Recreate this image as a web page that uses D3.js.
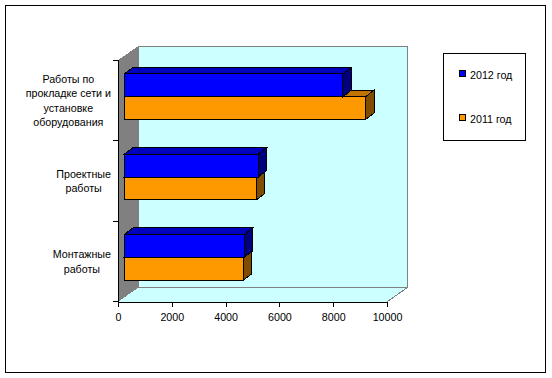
<!DOCTYPE html>
<html>
<head>
<meta charset="utf-8">
<script src="https://cdn.jsdelivr.net/npm/d3@7"></script>
<style>
html, body { margin: 0; padding: 0; background: #fff; }
svg { display: block; }
text { font-family: "Liberation Sans", Arial, sans-serif; font-size: 10.7px; fill: #000; }
.tick text { font-size: 10.7px; font-family: "Liberation Sans", Arial, sans-serif; }
rect, line, polygon, polyline, path { shape-rendering: crispEdges; }
</style>
</head>
<body>
<svg id="chart"></svg>
<script>
const categories = [
    ['Работы по', 'прокладке сети и', 'установке', 'оборудования'],
    ['Проектные', 'работы'],
    ['Монтажные', 'работы']
];
const values2012 = [8120, 4970, 4450];
const values2011 = [8960, 4900, 4420];
const xTicks = [0, 2000, 4000, 6000, 8000, 10000];
const seriesNames = ['2012 год', '2011 год'];

const chartWidth = 552, chartHeight = 378;
const svg = d3.select('#chart').attr('width', chartWidth).attr('height', chartHeight);

// frame of the picture
svg.append('rect').attr('x', 5.5).attr('y', 5.5).attr('width', 540).attr('height', 367)
    .attr('fill', '#fff').attr('stroke', '#000');

const plotLeft = 118.5, plotRight = 387.5, plotTop = 60.5, plotBottom = 301.5;
const wallDx = 20, wallDy = -14;
const barOffX = 6, barOffY = -4;
const depthX = 8.5, depthY = -6.5;

const xScale = d3.scaleLinear().domain([0, 10000]).range([plotLeft, plotRight]);
const yScale = d3.scaleBand().domain(d3.range(categories.length)).range([plotTop, plotBottom]);
const inner = yScale.bandwidth() * 0.215;

// walls
const poly = pts => pts.map(p => p.join(',')).join(' ');
svg.append('polygon')
    .attr('points', poly([[plotLeft + wallDx, plotTop + wallDy], [plotRight + wallDx, plotTop + wallDy], [plotRight + wallDx, plotBottom + wallDy],
        [plotRight, plotBottom], [plotLeft, plotBottom], [plotLeft + wallDx, plotBottom + wallDy]]))
    .attr('fill', '#ccffff').attr('stroke', 'none');
svg.append('polygon')
    .attr('points', poly([[plotLeft, plotTop], [plotLeft + wallDx, plotTop + wallDy], [plotLeft + wallDx, plotBottom + wallDy], [plotLeft, plotBottom]]))
    .attr('fill', '#808080').attr('stroke', 'none');
svg.append('polyline')
    .attr('points', poly([[plotLeft, plotTop], [plotLeft + wallDx, plotTop + wallDy], [plotRight + wallDx, plotTop + wallDy],
        [plotRight + wallDx, plotBottom + wallDy], [plotRight, plotBottom]]))
    .attr('fill', 'none').attr('stroke', '#808080');
svg.append('line')
    .attr('x1', plotLeft + wallDx).attr('y1', plotBottom + wallDy).attr('x2', plotRight + wallDx).attr('y2', plotBottom + wallDy)
    .attr('stroke', '#808080');

// each bar is a box: top and side faces first, then the front
function drawBar(g, value, y0, h, front, topFace, side) {
    const x0 = xScale(0) + barOffX;
    const x1 = xScale(value) + barOffX;
    g.append('polygon')
        .attr('points', poly([[x0, y0], [x0 + depthX, y0 + depthY], [x1 + depthX, y0 + depthY], [x1, y0]]))
        .attr('fill', topFace);
    g.append('polygon')
        .attr('points', poly([[x1, y0], [x1 + depthX, y0 + depthY], [x1 + depthX, y0 + h + depthY], [x1, y0 + h]]))
        .attr('fill', side);
    g.append('rect').attr('x', x0).attr('y', y0).attr('width', x1 - x0).attr('height', h)
        .attr('fill', front);
}

const bars = svg.append('g').attr('stroke', '#000').attr('stroke-linejoin', 'miter');
categories.forEach((c, i) => {
    const mid = yScale(i) + yScale.bandwidth() / 2 + barOffY;
    const h = (yScale.bandwidth() - 2 * inner) / 2;
    drawBar(bars, values2011[i], mid, h, '#ff9900', '#bf7300', '#7f4c00');
    drawBar(bars, values2012[i], mid - h, h, '#0000ff', '#0000bf', '#00007f');
});

// axes
const xAxis = d3.axisBottom(xScale).tickValues(xTicks).tickFormat(d3.format('d')).tickSize(5).tickPadding(7).tickSizeOuter(0);
const xAxisG = svg.append('g').attr('transform', `translate(0,${plotBottom})`).call(xAxis);
xAxisG.select('.domain').attr('stroke', '#000');
xAxisG.selectAll('.tick').attr('transform', d => `translate(${xScale(d)},0)`);

const yLine = svg.append('g').attr('stroke', '#000');
yLine.append('line').attr('x1', plotLeft).attr('x2', plotLeft).attr('y1', plotTop).attr('y2', plotBottom);
d3.range(categories.length + 1).forEach(i => {
    const y = plotTop + i * yScale.step();
    yLine.append('line').attr('x1', plotLeft - 6).attr('x2', plotLeft).attr('y1', y).attr('y2', y);
});

// category labels: lines centred in a block whose right edge sits by the axis
const labelRight = 111;
const lineHeight = 14.5;
categories.forEach((c, i) => {
    const cy = yScale(i) + yScale.bandwidth() / 2;
    const labels = svg.append('g').attr('text-anchor', 'middle');
    const lines = c.map((t, j) => labels.append('text')
        .attr('y', cy + (j - (c.length - 1) / 2) * lineHeight + 4)
        .text(t));
    const blockWidth = d3.max(lines, l => l.node().getComputedTextLength());
    lines.forEach(l => l.attr('x', labelRight - blockWidth / 2));
});

// legend
svg.append('rect').attr('x', 443.5).attr('y', 53.5).attr('width', 82).attr('height', 86.5)
    .attr('fill', '#fff').attr('stroke', '#000');
const legendColors = ['#0000ff', '#ff9900'];
const legendY = d3.scalePoint().domain(seriesNames).range([74, 118]);
seriesNames.forEach((s, i) => {
    const y = legendY(s);
    svg.append('rect').attr('x', 459.5).attr('y', y - 3.5).attr('width', 6).attr('height', 6)
        .attr('fill', legendColors[i]).attr('stroke', '#000');
    svg.append('text').attr('x', 470).attr('y', y + 5).text(s);
});
</script>
</body>
</html>
